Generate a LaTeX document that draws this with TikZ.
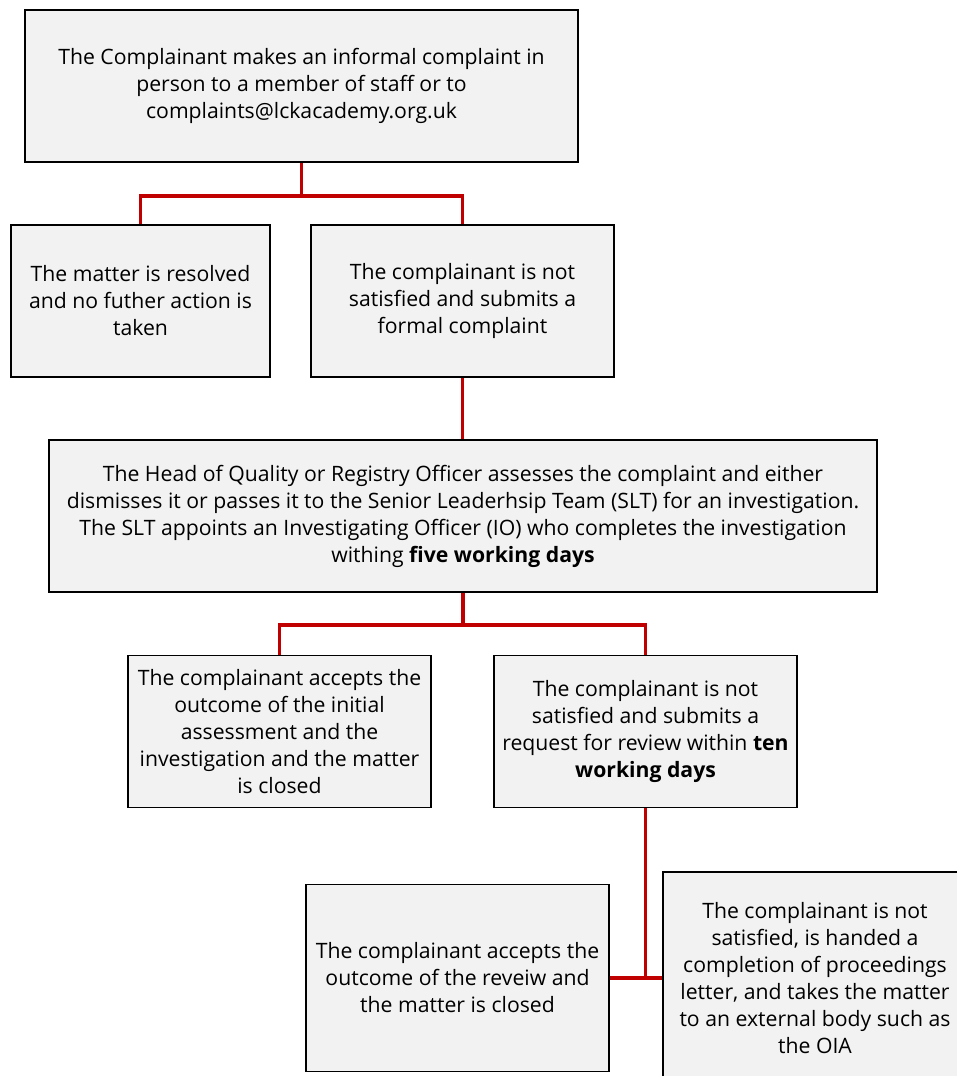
\documentclass[tikz,border=0pt]{standalone}
\usepackage{fontspec}
\setmainfont{Open Sans}
\usepackage{xcolor}
\usetikzlibrary{positioning, calc}
\definecolor{boxfill}{HTML}{F2F2F2}
\definecolor{linkred}{HTML}{C00000}

\begin{document}
\begin{tikzpicture}[
  x=1pt, y=-1pt,
  font=\fontsize{21.2}{27}\selectfont,
  box/.style={draw=black, line width=1.6pt, fill=boxfill, align=center, inner sep=2pt, minimum width=303pt, minimum height=152pt},
  link/.style={draw=linkred, line width=3.5pt}
]
\useasboundingbox (0,0) rectangle (956,1076);
\node[box, minimum width=553pt] (informal) at (301.5,86) {The Complainant makes an informal complaint in\\person to a member of staff or to\\complaints@lckacademy.org.uk};
\node[box, minimum width=259pt] (resolved) at (140.5,301) {The matter is resolved\\and no futher action is\\taken};
\node[box] (formal) at (462.5,301) {The complainant is not\\satisfied and submits a\\formal complaint};
\node[box, minimum width=828pt] (assess) at (463,516) {The Head of Quality or Registry Officer assesses the complaint and either\\dismisses it or passes it to the Senior Leaderhsip Team (SLT) for an investigation.\\The SLT appoints an Investigating Officer (IO) who completes the investigation\\withing \textbf{five working days}};
\node[box] (accepted) at (279.5,731.5) {The complainant accepts the\\outcome of the initial\\assessment and the\\investigation and the matter\\is closed};
\node[box] (review) at (645.5,731.5) {The complainant is not\\satisfied and submits a\\request for review within \textbf{ten}\\\textbf{working days}};
\node[box, minimum height=187pt] (closed) at (457.5,978) {The complainant accepts the\\outcome of the reveiw and\\the matter is closed};
\node[box, minimum width=304pt, minimum height=212pt] (external) at (815,978) {The complainant is not\\satisfied, is handed a\\completion of proceedings\\letter, and takes the matter\\to an external body such as\\the OIA};
\draw[link] (informal.south) -- ++(0,33) -| (resolved.north);
\draw[link] (informal.south) ++(0,33) -| (formal.north);
\draw[link] (formal.south) -- (assess.north -| formal.south);
\draw[link] (assess.south) -- ++(0,32) -| (accepted.north);
\draw[link] (assess.south) ++(0,32) -| (review.north);
\draw[link] (review.south) |- (closed.east);
\draw[link] (closed.east) -- (external.west);
\end{tikzpicture}
\end{document}
